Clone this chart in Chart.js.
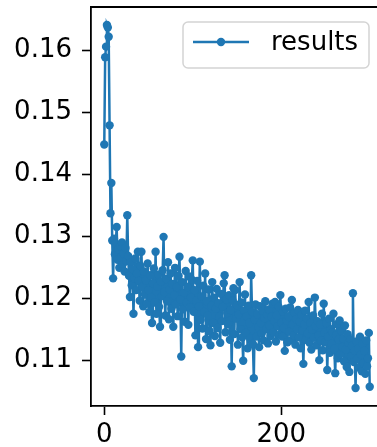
<!DOCTYPE html>
<html>
<head>
<meta charset="utf-8">
<script src="https://cdn.jsdelivr.net/npm/chart.js@4"></script>
<style>
  html, body { margin: 0; padding: 0; overflow: hidden; background: #fff; }
  #wrap { width: 400px; height: 447px; }
</style>
</head>
<body>
<div id="wrap"><canvas id="resultsChart" width="400" height="447"></canvas></div>
<script>
// loss per step
const results = [
  0.1448, 0.1589, 0.1606, 0.1641, 0.1637, 0.1622, 0.1479, 0.1337, 0.1386, 0.1293,
  0.1232, 0.1296, 0.1271, 0.1288, 0.1315, 0.1262, 0.1279, 0.1249, 0.1284, 0.1266,
  0.1290, 0.1255, 0.1272, 0.1243, 0.1281, 0.1260, 0.1334, 0.1268, 0.1236, 0.1202,
  0.1258, 0.1221, 0.1247, 0.1175, 0.1232, 0.1264, 0.1213, 0.1240, 0.1275, 0.1228,
  0.1196, 0.1252, 0.1275, 0.1218, 0.1187, 0.1243, 0.1206, 0.1229, 0.1191, 0.1256,
  0.1213, 0.1178, 0.1237, 0.1201, 0.1160, 0.1224, 0.1248, 0.1193, 0.1275, 0.1175,
  0.1219, 0.1238, 0.1186, 0.1154, 0.1227, 0.1203, 0.1245, 0.1299, 0.1210, 0.1172,
  0.1231, 0.1195, 0.1258, 0.1166, 0.1214, 0.1240, 0.1183, 0.1223, 0.1154, 0.1205,
  0.1249, 0.1190, 0.1218, 0.1171, 0.1236, 0.1267, 0.1198, 0.1106, 0.1226, 0.1182,
  0.1209, 0.1162, 0.1244, 0.1193, 0.1218, 0.1157, 0.1235, 0.1185, 0.1201, 0.1230,
  0.1261, 0.1178, 0.1213, 0.1140, 0.1196, 0.1228, 0.1121, 0.1187, 0.1259, 0.1165,
  0.1203, 0.1151, 0.1220, 0.1178, 0.1240, 0.1134, 0.1195, 0.1172, 0.1214, 0.1147,
  0.1124, 0.1188, 0.1226, 0.1160, 0.1201, 0.1139, 0.1183, 0.1215, 0.1152, 0.1192,
  0.1170, 0.1128, 0.1207, 0.1163, 0.1186, 0.1224, 0.1237, 0.1145, 0.1198, 0.1176,
  0.1158, 0.1205, 0.1133, 0.1181, 0.1090, 0.1196, 0.1216, 0.1142, 0.1213, 0.1167,
  0.1189, 0.1125, 0.1174, 0.1226, 0.1150, 0.1193, 0.1137, 0.1099, 0.1180, 0.1206,
  0.1144, 0.1171, 0.1119, 0.1188, 0.1160, 0.1135, 0.1237, 0.1178, 0.1126, 0.1071,
  0.1165, 0.1190, 0.1138, 0.1174, 0.1153, 0.1121, 0.1187, 0.1160, 0.1143, 0.1179,
  0.1132, 0.1168, 0.1195, 0.1150, 0.1173, 0.1127, 0.1182, 0.1156, 0.1139, 0.1170,
  0.1191, 0.1145, 0.1163, 0.1194, 0.1130, 0.1172, 0.1155, 0.1186, 0.1141, 0.1205,
  0.1160, 0.1138, 0.1178, 0.1152, 0.1115, 0.1183, 0.1164, 0.1129, 0.1171, 0.1146,
  0.1185, 0.1132, 0.1197, 0.1158, 0.1140, 0.1176, 0.1125, 0.1166, 0.1150, 0.1181,
  0.1137, 0.1162, 0.1119, 0.1173, 0.1148, 0.1094, 0.1158, 0.1180, 0.1133, 0.1167,
  0.1143, 0.1194, 0.1128, 0.1160, 0.1117, 0.1149, 0.1172, 0.1136, 0.1201, 0.1155,
  0.1124, 0.1163, 0.1140, 0.1100, 0.1158, 0.1131, 0.1175, 0.1116, 0.1191, 0.1144,
  0.1129, 0.1160, 0.1084, 0.1138, 0.1167, 0.1112, 0.1150, 0.1126, 0.1145, 0.1175,
  0.1118, 0.1079, 0.1140, 0.1158, 0.1103, 0.1133, 0.1164, 0.1110, 0.1147, 0.1121,
  0.1135, 0.1098, 0.1156, 0.1117, 0.1089, 0.1142, 0.1128, 0.1081, 0.1134, 0.1106,
  0.1123, 0.1208, 0.1097, 0.1115, 0.1055, 0.1130, 0.1102, 0.1119, 0.1088, 0.1138,
  0.1109, 0.1082, 0.1126, 0.1095, 0.1115, 0.1078, 0.1132, 0.1090, 0.1103, 0.1144,
  0.1057
];
const xTicks = [0, 200];
const yTicks = [0.11, 0.12, 0.13, 0.14, 0.15, 0.16];
const seriesLabel = "results";

const blue = "#1f77b4";
const font = { family: "DejaVu Sans", size: 26 };

// top spine; left and bottom come from the axis borders
const framePlugin = {
  id: "frame",
  afterDraw(chart) {
    const { ctx, chartArea: a } = chart;
    ctx.save();
    ctx.strokeStyle = "#000";
    ctx.lineWidth = 1.8;
    ctx.beginPath();
    ctx.moveTo(a.left, a.top);
    ctx.lineTo(a.right, a.top);
    ctx.lineTo(a.right, a.bottom);
    ctx.stroke();
    ctx.restore();
  }
};

// legend box drawn inside the axes, upper right
const innerLegend = {
  id: "innerLegend",
  afterDraw(chart) {
    const { ctx, chartArea: a } = chart;
    const ds = chart.data.datasets[0];
    const right = a.right - 14, top = a.top + 15;
    const w = 186, h = 46;
    const left = right - w;
    ctx.save();
    ctx.beginPath();
    ctx.roundRect(left, top, w, h, 5);
    ctx.fillStyle = "rgba(255,255,255,0.8)";
    ctx.fill();
    ctx.strokeStyle = "#d4d4d4";
    ctx.lineWidth = 1.5;
    ctx.stroke();
    const cy = top + h / 2 - 3;
    ctx.strokeStyle = ds.borderColor;
    ctx.lineWidth = ds.borderWidth;
    ctx.beginPath();
    ctx.moveTo(left + 10, cy);
    ctx.lineTo(left + 66, cy);
    ctx.stroke();
    ctx.fillStyle = ds.pointBackgroundColor;
    ctx.beginPath();
    ctx.arc(left + 38, cy, ds.pointRadius, 0, Math.PI * 2);
    ctx.fill();
    ctx.fillStyle = "#000";
    ctx.font = `${font.size}px "${font.family}"`;
    ctx.textBaseline = "middle";
    ctx.fillText(ds.label, left + 88, cy + 1);
    ctx.restore();
  }
};

// drop the room Chart.js keeps for half of the end tick labels
function noLabelPadding(axis) {
  axis.paddingTop = 0;
  axis.paddingBottom = 0;
  axis.paddingLeft = 0;
  axis.paddingRight = 0;
}

const ctx = document.getElementById("resultsChart").getContext("2d");
new Chart(ctx, {
  type: "line",
  data: {
    datasets: [{
      label: seriesLabel,
      data: results.map((v, i) => ({ x: i, y: v })),
      borderColor: blue,
      borderWidth: 2.5,
      pointRadius: 4.2,
      pointBackgroundColor: blue,
      pointBorderWidth: 0,
      tension: 0,
      fill: false
    }]
  },
  options: {
    responsive: false,
    animation: false,
    events: [],
    layout: { padding: { top: 7, right: 17, left: 0, bottom: 0 } },
    plugins: {
      legend: { display: false },
      tooltip: { enabled: false }
    },
    scales: {
      x: {
        type: "linear",
        min: -15,
        max: 315,
        afterBuildTicks: axis => { axis.ticks = xTicks.map(v => ({ value: v })); },
        afterFit: axis => { axis.height = 41; noLabelPadding(axis); },
        grid: { drawOnChartArea: false, drawTicks: true, tickLength: 9, tickColor: "#000", tickWidth: 1.6 },
        border: { display: true, color: "#000", width: 1.8 },
        ticks: { color: "#000", font: font, padding: 5, maxRotation: 0, autoSkip: false }
      },
      y: {
        min: 0.1026,
        max: 0.1670,
        afterBuildTicks: axis => { axis.ticks = yTicks.map(v => ({ value: v })); },
        afterFit: axis => { axis.width = 91; noLabelPadding(axis); },
        grid: { drawOnChartArea: false, drawTicks: true, tickLength: 9, tickColor: "#000", tickWidth: 1.6 },
        border: { display: true, color: "#000", width: 1.8 },
        ticks: { color: "#000", font: font, padding: 10, autoSkip: false, callback: v => v.toFixed(2) }
      }
    }
  },
  plugins: [framePlugin, innerLegend]
});
</script>
</body>
</html>
